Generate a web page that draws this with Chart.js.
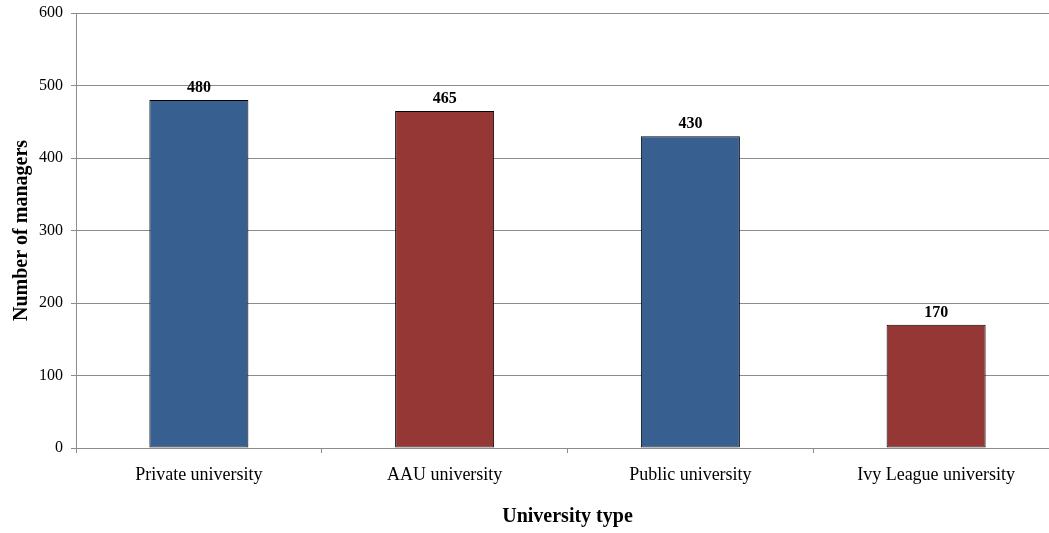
<!DOCTYPE html>
<html>
<head>
<meta charset="utf-8">
<script src="https://cdn.jsdelivr.net/npm/chart.js@4"></script>
<style>
  html, body { margin: 0; padding: 0; background: #fff; overflow: hidden; }
  #wrap { position: relative; width: 1059px; height: 533px; }
</style>
</head>
<body>
<div id="wrap"><canvas id="c"></canvas></div>
<script>
// University types and manager counts
const categories = ['Private university', 'AAU university', 'Public university', 'Ivy League university'];
const managers = [480, 465, 430, 170];
const yTicks = [0, 100, 200, 300, 400, 500, 600];

const BLUE = '#375F90';
const RED = '#953735';
const GRID = '#8c8c8c';
const SERIF = '"Liberation Serif", "Times New Roman", serif';

// Writes each bar's value above it, using the bar element positions
const valueLabels = {
  id: 'valueLabels',
  afterDatasetsDraw(chart) {
    const ctx = chart.ctx;
    const meta = chart.getDatasetMeta(0);
    ctx.save();
    ctx.font = 'bold 16px ' + SERIF;
    ctx.fillStyle = '#000';
    ctx.textAlign = 'center';
    ctx.textBaseline = 'alphabetic';
    meta.data.forEach((bar, i) => {
      ctx.fillText(String(managers[i]), bar.x, bar.y - 8);
    });
    ctx.restore();
  }
};

new Chart(document.getElementById('c'), {
  type: 'bar',
  data: {
    labels: categories,
    datasets: [{
      data: managers,
      backgroundColor: categories.map((_, i) => i % 2 === 0 ? BLUE : RED),
      borderColor: '#000',
      borderWidth: 1,
      borderSkipped: false,
      categoryPercentage: 1.0,
      barPercentage: 0.403
    }]
  },
  options: {
    responsive: true,
    maintainAspectRatio: false,
    animation: false,
    layout: { padding: { top: 13, right: 0, bottom: 0, left: 0 } },
    plugins: {
      legend: { display: false },
      tooltip: { enabled: false }
    },
    scales: {
      x: {
        grid: {
          display: true,
          drawOnChartArea: false,
          drawTicks: true,
          tickLength: 5,
          color: GRID,
          offset: true
        },
        border: { display: true, color: GRID, width: 1 },
        ticks: {
          color: '#000',
          font: { family: SERIF, size: 18 },
          padding: 11,
          maxRotation: 0
        },
        title: {
          display: true,
          text: 'University type',
          color: '#000',
          font: { family: SERIF, size: 20, weight: 'bold' },
          padding: { top: 0, bottom: 4 }
        },
        afterFit(scale) { scale.height = 85; }
      },
      y: {
        min: 0,
        max: 600,
        afterBuildTicks(scale) { scale.ticks = yTicks.map(v => ({ value: v })); },
        grid: {
          color: GRID,
          tickLength: 5,
          drawTicks: true
        },
        border: { display: true, color: GRID, width: 1 },
        ticks: {
          color: '#000',
          font: { family: SERIF, size: 16 },
          padding: 8
        },
        title: {
          display: true,
          text: 'Number of managers',
          color: '#000',
          font: { family: SERIF, size: 20, weight: 'bold' },
          padding: { top: 10, bottom: 0 }
        },
        afterFit(scale) {
          scale.width = 76;
          scale.paddingTop = 0;
          scale.paddingBottom = 0;
        }
      }
    }
  },
  plugins: [valueLabels]
});
</script>
</body>
</html>
